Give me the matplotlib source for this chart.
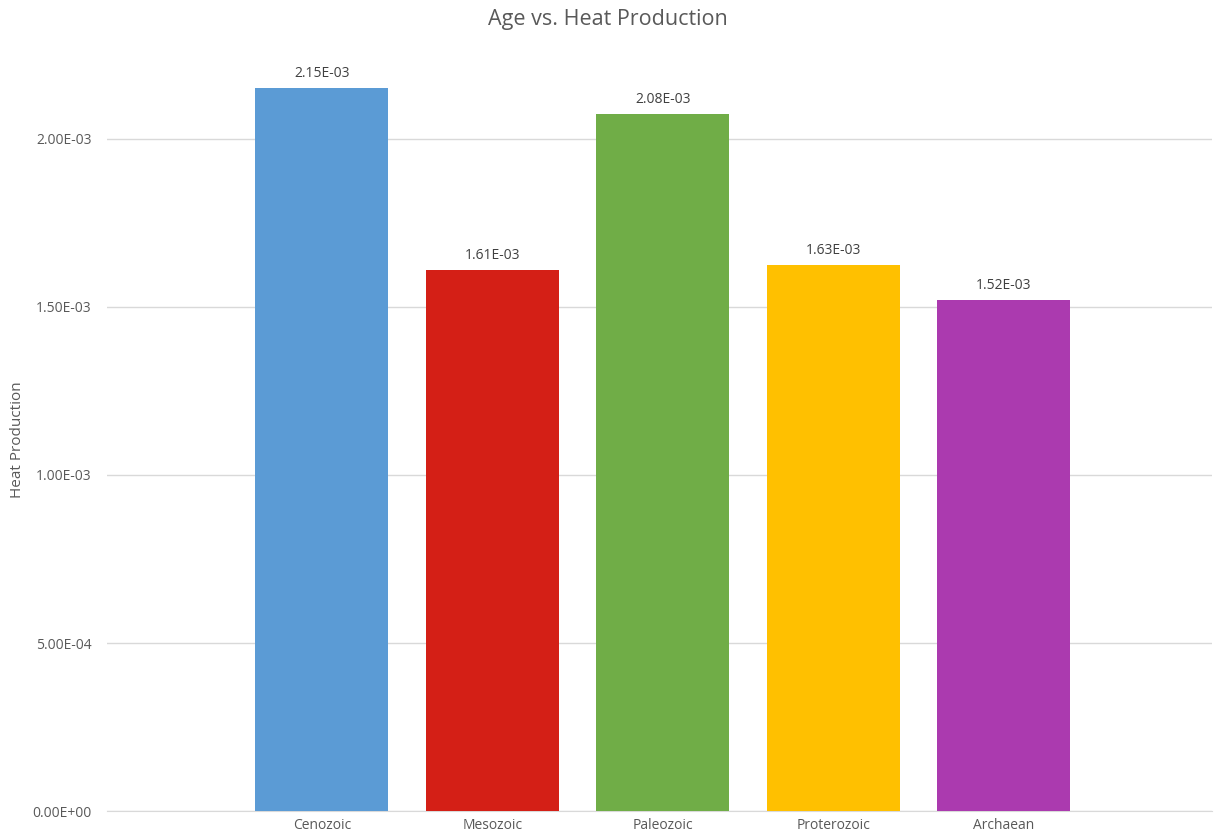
import matplotlib
matplotlib.use("Agg")
import matplotlib.pyplot as plt

# data
ages = ["Cenozoic", "Mesozoic", "Paleozoic", "Proterozoic", "Archaean"]
heat = [2.152e-3, 1.610e-3, 2.075e-3, 1.626e-3, 1.521e-3]
colors = ["#5B9BD5", "#D41F16", "#70AD47", "#FFC000", "#AB3AAF"]
yticks = [0, 5e-4, 1e-3, 1.5e-3, 2e-3]

plt.rcParams["font.family"] = ["Open Sans", "DejaVu Sans"]
grey = "#595959"

fig = plt.figure(figsize=(12.16, 8.32), dpi=100)
ax = fig.add_axes([0.088, 0.0252, 0.9087, 0.929])

x = list(range(len(ages)))
bars = ax.bar(x, heat, width=0.78, color=colors, zorder=3)

for b, v in zip(bars, heat):
    ax.annotate("%.2E" % v, (b.get_x() + b.get_width() / 2, v),
                xytext=(0, 5), textcoords="offset points",
                ha="center", va="bottom", fontsize=10, color="#404040")

ax.set_xlim(-1.26, 5.22)
ax.set_ylim(0, 2.3e-3)
ax.set_yticks(yticks)
ax.set_yticklabels(["%.2E" % t for t in yticks])
ax.set_xticks(x)
ax.set_xticklabels(ages)
ax.tick_params(axis="both", length=0, colors=grey, labelsize=10)
ax.tick_params(axis="y", pad=11)
ax.tick_params(axis="x", pad=5)

ax.grid(axis="y", color="#D9D9D9", linewidth=1, zorder=0)
for s in ["top", "right", "left"]:
    ax.spines[s].set_visible(False)
ax.spines["bottom"].set_color("#D9D9D9")

fig.text(18 / 1216, 1 - 440 / 832, "Heat Production", rotation=90,
         ha="center", va="center", fontsize=11, color=grey)
fig.text(0.5, 1 - 20 / 832, "Age vs. Heat Production", ha="center", va="center",
         fontsize=15.5, color=grey)

fig.savefig("out.png", dpi=100)
